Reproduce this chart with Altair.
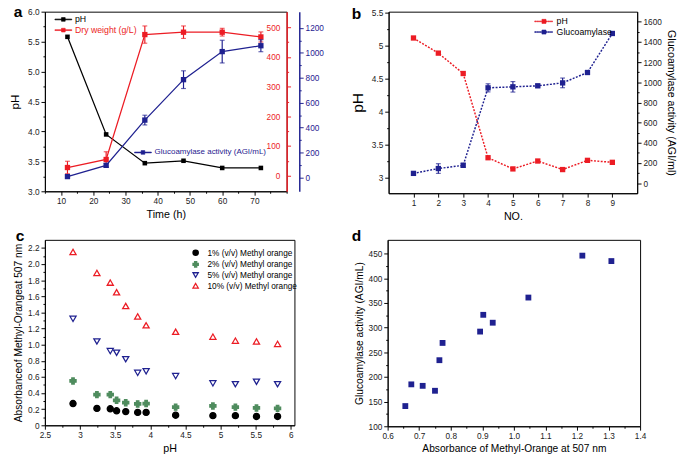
import altair as alt
import pandas as pd

FONT = "Liberation Sans"
RED = "#ec1c24"
NAVY = "#1f2190"
GREEN = "#4f8c5e"

# ---------------- data ----------------
# panel a
time_h = [12, 24, 36, 48, 60, 72]
ph_a = [5.58, 3.95, 3.47, 3.51, 3.39, 3.39]
dry_weight = [28, 55, 475, 483, 483, 467]
dry_weight_err = [21, 26, 29, 21, 13, 17]
gluco_a = [8, 98, 461, 785, 1010, 1057]
gluco_a_err = [13, 15, 39, 71, 91, 48]

# panel b
batch_no = [1, 2, 3, 4, 5, 6, 7, 8, 9]
ph_b = [5.12, 4.89, 4.58, 3.30, 3.13, 3.25, 3.12, 3.26, 3.23]
gluco_b = [97, 145, 177, 945, 955, 965, 994, 1097, 1484]
gluco_b_err = [8, 48, 20, 40, 52, 15, 48, 10, 10]

# panel c
ph_c = [2.90, 3.24, 3.43, 3.52, 3.65, 3.82, 3.94, 4.36, 4.89, 5.21, 5.51, 5.81]
abs_1pct = [0.27, 0.21, 0.205, 0.18, 0.17, 0.16, 0.16, 0.125, 0.12, 0.12, 0.11, 0.11]
abs_2pct = [0.55, 0.38, 0.38, 0.31, 0.28, 0.265, 0.27, 0.225, 0.24, 0.225, 0.215, 0.21]
abs_5pct = [1.32, 1.04, 0.92, 0.90, 0.82, 0.65, 0.67, 0.61, 0.52, 0.51, 0.54, 0.51]
abs_10pct = [2.15, 1.89, 1.77, 1.65, 1.48, 1.35, 1.24, 1.16, 1.10, 1.05, 1.04, 1.01]
series_c = ["1%   (v/v)   Methyl orange", "2%   (v/v)   Methyl orange",
            "5%   (v/v)   Methyl orange", "10% (v/v)   Methyl orange"]

# panel d
abs_d = [0.656, 0.675, 0.711, 0.750, 0.764, 0.774, 0.893, 0.903, 0.933, 1.046, 1.217, 1.309]
gluco_d = [141, 185, 182, 172, 234, 269, 292, 326, 310, 361, 446, 435]


# ---------------- helpers ----------------
def minor_axis(values, major_test, fmt, **kw):
    return alt.Axis(
        values=values,
        tickSize={"condition": {"test": major_test, "value": 4}, "value": 2},
        labelExpr=f"({major_test}) ? {fmt} : ''",
        labelOverlap=False,
        labelFlush=False,
        **kw,
    )


def mult(step):
    return f"abs(datum.value/{step} - round(datum.value/{step})) < 1e-6"


SOLID_SYM = "M-1,-0.05H1V0.05H-1Z M-0.22,-0.22H0.22V0.22H-0.22Z"


def dotted_sym():
    parts = []
    x = -1.0
    while x < 1.0:
        x2 = min(x + 0.12, 1.0)
        parts.append(f"M{x:.2f},-0.05H{x2:.2f}V0.05H{x:.2f}Z")
        x += 0.2
    parts.append("M-0.22,-0.22H0.22V0.22H-0.22Z")
    return " ".join(parts)


DOT_SYM = dotted_sym()


def leg(x, y, color, sym, label_color, size=300, fs=9):
    return alt.Legend(
        title=None, orient="none", legendX=x, legendY=y,
        symbolType=sym, symbolSize=size, symbolFillColor=color,
        symbolStrokeColor=color, symbolStrokeWidth=0.6,
        labelColor=label_color, labelFontSize=fs, labelFont=FONT,
        padding=0, labelOffset=3,
    )


def panel_label(t, x, y):
    return alt.Chart(pd.DataFrame({"t": [t]})).mark_text(
        fontSize=16, fontWeight="bold", font=FONT, align="left", baseline="top"
    ).encode(x=alt.value(x), y=alt.value(y), text="t:N")


# ---------------- panel a ----------------
df_a = pd.DataFrame({
    "time": time_h, "ph": ph_a,
    "dw": dry_weight,
    "dw_lo": [v - e for v, e in zip(dry_weight, dry_weight_err)],
    "dw_hi": [v + e for v, e in zip(dry_weight, dry_weight_err)],
    "gl": gluco_a,
    "gl_lo": [v - e for v, e in zip(gluco_a, gluco_a_err)],
    "gl_hi": [v + e for v, e in zip(gluco_a, gluco_a_err)],
})
base_a = alt.Chart(df_a)
xa = alt.X("time:Q", scale=alt.Scale(domain=[5, 80], nice=False, zero=False),
           axis=minor_axis([5 * i for i in range(1, 17)],
                           "datum.value % 10 == 0 && datum.value <= 70",
                           "format(datum.value, 'd')", title="Time (h)", titleFontSize=11))

y_ph_scale = alt.Scale(domain=[3.0, 6.0], nice=False, zero=False)
y_ph_axis = minor_axis([round(3 + 0.25 * i, 2) for i in range(13)], mult(0.5),
                       "format(datum.value, '.1f')", title="pH", titleFontSize=12,
                       titlePadding=6)
ph_layer = alt.layer(
    base_a.mark_line(color="black", strokeWidth=1.3).encode(
        x=xa, y=alt.Y("ph:Q", scale=y_ph_scale, axis=y_ph_axis)),
    base_a.transform_calculate(s="'pH'").mark_point(
        shape="square", filled=True, size=22, opacity=1).encode(
        x=xa, y=alt.Y("ph:Q", scale=y_ph_scale, axis=y_ph_axis),
        color=alt.Color("s:N", scale=alt.Scale(domain=["pH"], range=["black"]),
                        legend=leg(10, -1, "black", SOLID_SYM, "black"))),
)

y_dw_scale = alt.Scale(domain=[-52, 552], nice=False, zero=False)
y_dw_axis = minor_axis([50 * i for i in range(11)], mult(100), "format(datum.value, 'd')",
                       title=None, orient="right", labelAlign="right", labelPadding=-11,
                       labelColor=RED, domainColor=RED, tickColor=RED, domainWidth=1.5)
dw_layer = alt.layer(
    base_a.mark_line(color=RED, strokeWidth=1.3).encode(
        x=xa, y=alt.Y("dw:Q", scale=y_dw_scale, axis=y_dw_axis)),
    base_a.mark_errorbar(ticks=True, color=RED, thickness=1.2).encode(
        x=xa, y=alt.Y("dw_lo:Q", scale=y_dw_scale, axis=y_dw_axis), y2="dw_hi:Q"),
    base_a.transform_calculate(s="'Dry weight (g/L)'").mark_point(
        shape="square", filled=True, size=30, opacity=1).encode(
        x=xa, y=alt.Y("dw:Q", scale=y_dw_scale, axis=y_dw_axis),
        color=alt.Color("s:N", scale=alt.Scale(domain=["Dry weight (g/L)"], range=[RED]),
                        legend=leg(10, 10, RED, SOLID_SYM, RED))),
)

y_gl_scale = alt.Scale(domain=[-110, 1330], nice=False, zero=False)
y_gl_axis = minor_axis([100 * i for i in range(13)], mult(200), "format(datum.value, 'd')",
                       title=None, orient="right", offset=13, labelPadding=2,
                       labelColor=NAVY, domainColor=NAVY, tickColor=NAVY, domainWidth=1.5)
gl_layer = alt.layer(
    base_a.mark_line(color=NAVY, strokeWidth=1.3).encode(
        x=xa, y=alt.Y("gl:Q", scale=y_gl_scale, axis=y_gl_axis)),
    base_a.mark_errorbar(ticks=True, color=NAVY, thickness=1.2).encode(
        x=xa, y=alt.Y("gl_lo:Q", scale=y_gl_scale, axis=y_gl_axis), y2="gl_hi:Q"),
    base_a.transform_calculate(s="'Glucoamylase activity  (AGI/mL)'").mark_point(
        shape="square", filled=True, size=30, opacity=1).encode(
        x=xa, y=alt.Y("gl:Q", scale=y_gl_scale, axis=y_gl_axis),
        color=alt.Color("s:N", scale=alt.Scale(domain=["Glucoamylase activity  (AGI/mL)"],
                                               range=[NAVY]),
                        legend=leg(92, 136, NAVY, SOLID_SYM, NAVY, fs=8.2))),
)

panel_a = alt.layer(ph_layer, dw_layer, gl_layer, panel_label("a", -32, -8)).resolve_scale(
    y="independent", color="independent").properties(width=249, height=185)

# ---------------- panel b ----------------
df_b = pd.DataFrame({
    "no": batch_no, "ph": ph_b, "gl": gluco_b,
    "gl_lo": [v - e for v, e in zip(gluco_b, gluco_b_err)],
    "gl_hi": [v + e for v, e in zip(gluco_b, gluco_b_err)],
})
base_b = alt.Chart(df_b)
xb = alt.X("no:Q", scale=alt.Scale(domain=[0, 10], nice=False),
           axis=alt.Axis(values=batch_no, format="d", title="NO.", tickSize=4,
                         labelFlush=False, titleFontSize=11))
yb_ph_scale = alt.Scale(domain=[2.76, 5.52], nice=False, zero=False)
yb_ph_axis = minor_axis([round(3 + 0.25 * i, 2) for i in range(11)], mult(0.5),
                        "format(datum.value, '.1~f')", title="pH", titleFontSize=16,
                        titlePadding=6)
phb_layer = alt.layer(
    base_b.mark_line(color=RED, strokeWidth=1.5, strokeDash=[2, 1.5]).encode(
        x=xb, y=alt.Y("ph:Q", scale=yb_ph_scale, axis=yb_ph_axis)),
    base_b.transform_calculate(s="'pH'").mark_point(
        shape="square", filled=True, size=30, opacity=1).encode(
        x=xb, y=alt.Y("ph:Q", scale=yb_ph_scale, axis=yb_ph_axis),
        color=alt.Color("s:N", scale=alt.Scale(domain=["pH"], range=[RED]),
                        legend=leg(150, 0, RED, DOT_SYM, "black", 361))),
)
yb_gl_scale = alt.Scale(domain=[-100, 1700], nice=False, zero=False)
yb_gl_axis = minor_axis([100 * i for i in range(17)], mult(200), "format(datum.value, 'd')",
                        title="Glucoamylase activity (AGI/ml)", orient="right",
                        titleFontSize=11)
glb_layer = alt.layer(
    base_b.mark_line(color=NAVY, strokeWidth=1.5, strokeDash=[2, 1.5]).encode(
        x=xb, y=alt.Y("gl:Q", scale=yb_gl_scale, axis=yb_gl_axis)),
    base_b.mark_errorbar(ticks=True, color=NAVY, thickness=1.2).encode(
        x=xb, y=alt.Y("gl_lo:Q", scale=yb_gl_scale, axis=yb_gl_axis), y2="gl_hi:Q"),
    base_b.transform_calculate(s="'Glucoamylase'").mark_point(
        shape="square", filled=True, size=30, opacity=1).encode(
        x=xb, y=alt.Y("gl:Q", scale=yb_gl_scale, axis=yb_gl_axis),
        color=alt.Color("s:N", scale=alt.Scale(domain=["Glucoamylase"], range=[NAVY]),
                        legend=leg(150, 11, NAVY, DOT_SYM, "black", 361))),
)
panel_b = alt.layer(phb_layer, glb_layer, panel_label("b", -38, -5)).resolve_scale(
    y="independent", color="independent").properties(width=256, height=187)

# ---------------- panel c ----------------
rows_c = []
for name, vals in zip(series_c, [abs_1pct, abs_2pct, abs_5pct, abs_10pct]):
    for p, v in zip(ph_c, vals):
        rows_c.append({"ph": p, "abs": v, "series": name})
df_c = pd.DataFrame(rows_c)
leg_c = alt.Legend(title=None, orient="none", legendX=151, legendY=9,
                   labelFontSize=8.5, labelFont=FONT, symbolSize=30,
                   rowPadding=0, labelOffset=8, padding=0, symbolStrokeWidth=1.3)
points_c = alt.Chart(df_c).mark_point(size=40, strokeWidth=1.3, opacity=1).encode(
    x=alt.X("ph:Q", scale=alt.Scale(domain=[2.5, 6.05], nice=False, zero=False),
            axis=minor_axis([round(2.5 + 0.25 * i, 2) for i in range(15)], mult(0.5),
                            "format(datum.value, '.1~f')", title="pH", titleFontSize=11)),
    y=alt.Y("abs:Q", scale=alt.Scale(domain=[0, 2.3], nice=False),
            axis=minor_axis([round(0.1 * i, 2) for i in range(23)], mult(0.2),
                            "datum.value == 0 ? '0' : format(datum.value, '.1f')",
                            title="Absorbanceof  Methyl-Orangeat 507 nm", titleFontSize=10.5)),
    color=alt.Color("series:N", scale=alt.Scale(domain=series_c,
                                                range=["black", GREEN, NAVY, RED]),
                    legend=leg_c),
    fill=alt.Fill("series:N", scale=alt.Scale(domain=series_c,
                                              range=["black", GREEN, "white", "white"]),
                  legend=leg_c),
    shape=alt.Shape("series:N", scale=alt.Scale(domain=series_c,
                                                range=["circle", "cross", "triangle-down",
                                                       "triangle-up"]),
                    legend=leg_c),
)
panel_c = alt.layer(points_c, panel_label("c", -30, -12)).properties(width=257, height=191)

# ---------------- panel d ----------------
df_d = pd.DataFrame({"abs": abs_d, "gl": gluco_d})
points_d = alt.Chart(df_d).mark_square(size=36, color=NAVY, opacity=1).encode(
    x=alt.X("abs:Q", scale=alt.Scale(domain=[0.6, 1.4], nice=False, zero=False),
            axis=minor_axis([round(0.6 + 0.05 * i, 2) for i in range(17)], mult(0.1),
                            "format(datum.value, '.1f')",
                            title="Absorbance of Methyl-Orange at 507 nm", titleFontSize=10.5)),
    y=alt.Y("gl:Q", scale=alt.Scale(domain=[100, 478], nice=False, zero=False),
            axis=minor_axis([100 + 25 * i for i in range(15)], mult(50),
                            "format(datum.value, 'd')",
                            title="Glucoamylase activity (AGI/mL)", titleFontSize=10.5)),
)
panel_d = alt.layer(points_d, panel_label("d", -37, -12)).properties(width=260, height=192)

RES = dict(color="independent", fill="independent", shape="independent")
chart = alt.vconcat(
    alt.hconcat(panel_a, panel_b, spacing=25).resolve_legend(**RES).resolve_scale(**RES),
    alt.hconcat(panel_c, panel_d, spacing=49).resolve_legend(**RES).resolve_scale(**RES),
    spacing=5,
).resolve_legend(**RES).resolve_scale(**RES).configure_axis(
    labelFont=FONT, titleFont=FONT, labelFontSize=8.5, titleFontWeight="normal",
    grid=False, domainColor="black", tickColor="black", labelColor="#222",
).configure_view(stroke="black", strokeWidth=1).properties(
    padding={"top": -12, "left": 0, "right": 0, "bottom": 0})

chart.save("out.html", embed_options={"renderer": "svg", "actions": False})
